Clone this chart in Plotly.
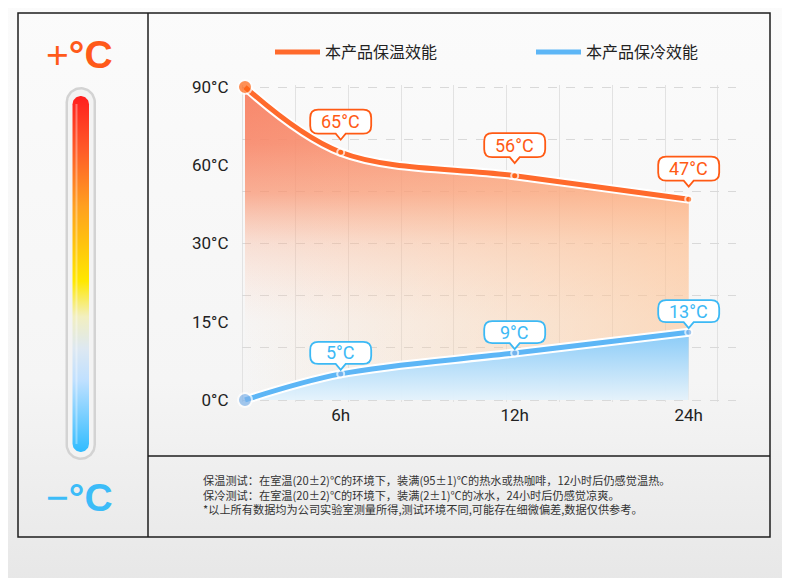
import numpy as np
import plotly.graph_objects as go

W, H = 790, 578
OFF = 8  # the page body margin shifts the figure by 8px

# ---- data ----
hours = [0, 6, 12, 24]
hot_temps = [90, 65, 56, 47]
cold_temps = [0, 5, 9, 13]
hot_name = "本产品保温效能"
cold_name = "本产品保冷效能"
x_tick_labels = ["6h", "12h", "24h"]
y_tick_temps = [0, 15, 30, 60, 90]
y_tick_labels = ["0°C", "15°C", "30°C", "60°C", "90°C"]
notes = [
    "保温测试：在室温(20±2)℃的环境下，装满(95±1)℃的热水或热咖啡，12小时后仍感觉温热。",
    "保冷测试：在室温(20±2)℃的环境下，装满(2±1)℃的冰水，24小时后仍感觉凉爽。",
    "*以上所有数据均为公司实验室测量所得,测试环境不同,可能存在细微偏差,数据仅供参考。",
]

# the chart uses broken scales: ticks sit at equal steps
x_break_hours = [0, 6, 12, 24]
x_break_pos = [0, 0.55, 1.55, 2.55]
y_break_pos = [0, 1, 2, 3, 4]


def xs(h):
    return np.interp(h, x_break_hours, x_break_pos)


def ys(t):
    return np.interp(t, y_tick_temps, y_break_pos)


hot_x, hot_y = xs(hours), ys(hot_temps)
cold_x, cold_y = xs(hours), ys(cold_temps)


# page pixels -> paper fraction
def px(x, y):
    return (x - OFF) / W, 1 - (y - OFF) / H


# ---- geometry (page pixels) ----
X0_PX, X_UNIT = 245, 174
Y0_PX, Y_UNIT = 400, 78.25
x_range = [-0.02, 2.82]
y_range = [-0.03, 4.03]
x_dom = [px(X0_PX + x_range[0] * X_UNIT, 0)[0], px(X0_PX + x_range[1] * X_UNIT, 0)[0]]
y_dom = [px(0, Y0_PX - y_range[0] * Y_UNIT)[1], px(0, Y0_PX - y_range[1] * Y_UNIT)[1]]

vgrid = [(242.7 + 52.8 * k - X0_PX) / X_UNIT for k in range(10)]
hgrid = [k * 2 / 3 for k in range(7)]

ORANGE = "#ff5a14"
BLUE = "#3cb9f5"


def stadium(x0, x1, y0, y1, n=30):
    r = (x1 - x0) / 2
    cx = (x0 + x1) / 2
    t = np.linspace(np.pi, 0, n)
    tx = cx + r * np.cos(t)
    ty = y0 + r - r * np.sin(t)
    t2 = np.linspace(0, -np.pi, n)
    bx = cx + r * np.cos(t2)
    by = y1 - r - r * np.sin(t2)
    return np.r_[tx, bx, tx[:1]], np.r_[ty, by, ty[:1]]


def callout_path(bottom, top, w=30.5, r=8, notch=5, notch_h=6):
    b, t = bottom, top
    return (f"M{-w + r},{b} L{-notch},{b} L0,{b - notch_h} L{notch},{b} L{w - r},{b} "
            f"Q{w},{b} {w},{b + r} L{w},{t - r} Q{w},{t} {w - r},{t} "
            f"L{-w + r},{t} Q{-w},{t} {-w},{t - r} L{-w},{b + r} Q{-w},{b} {-w + r},{b} Z")


fig = go.Figure()

# ---- decoration layer (pixel axes) ----
fig.add_trace(go.Scatter(
    x=[0, W + OFF, W + OFF, 0, 0], y=[0, 0, H + OFF, H + OFF, 0], xaxis="x", yaxis="y",
    mode="lines", line_width=0, fill="toself", hoverinfo="skip", showlegend=False,
    fillgradient=dict(type="vertical", start=H + OFF, stop=0,
                      colorscale=[[0, "#e7e7e7"], [0.35, "#f5f5f5"], [1, "#fbfbfb"]]),
))
for (x0, x1, y0, y1, col) in [(65.5, 96, 87, 460, "#d3d3d3"), (68, 93.5, 89.5, 457.5, "#f3f3f3")]:
    sx, sy = stadium(x0, x1, y0, y1)
    fig.add_trace(go.Scatter(x=sx, y=sy, xaxis="x", yaxis="y", mode="lines", line_width=0,
                             fill="toself", fillcolor=col, hoverinfo="skip", showlegend=False))
sx, sy = stadium(72.5, 89, 96, 452)
fig.add_trace(go.Scatter(
    x=sx, y=sy, xaxis="x", yaxis="y", mode="lines", line_width=0, fill="toself",
    hoverinfo="skip", showlegend=False,
    fillgradient=dict(type="vertical", start=452, stop=96, colorscale=[
        [0, "#30bcff"], [0.11, "#7fd0ff"], [0.2, "#bfe0ff"], [0.29, "#dde8f2"],
        [0.38, "#f2efc0"], [0.48, "#ffe800"], [0.6, "#ffbe10"], [0.69, "#ffa020"],
        [0.85, "#ff5a28"], [1, "#ff1e1e"]]),
))
fig.add_trace(go.Scatter(x=[76.5, 76.5], y=[104, 444], xaxis="x", yaxis="y", mode="lines",
                         line=dict(color="rgba(255,255,255,0.35)", width=2),
                         hoverinfo="skip", showlegend=False))

# ---- chart ----
fig.add_trace(go.Scatter(
    x=hot_x, y=hot_y, xaxis="x2", yaxis="y2", mode="lines", line=dict(width=0, shape="spline"),
    fill="tozeroy", hoverinfo="skip", showlegend=False,
    fillgradient=dict(type="vertical", start=0, stop=4, colorscale=[
        [0, "rgba(255,235,220,0)"], [0.25, "rgba(252,205,180,0.05)"], [0.5, "rgba(250,165,130,0.3)"],
        [0.66, "rgba(249,145,110,0.72)"], [0.82, "rgba(248,135,105,0.9)"], [1, "rgba(248,128,98,0.95)"]]),
))
fig.add_trace(go.Scatter(
    x=hot_x, y=hot_y, xaxis="x2", yaxis="y2", mode="lines", line=dict(width=0, shape="spline"),
    fill="tozeroy", hoverinfo="skip", showlegend=False,
    fillgradient=dict(type="horizontal", colorscale=[
        [0, "rgba(255,200,150,0)"], [1, "rgba(255,195,145,0.55)"]]),
))
fig.add_trace(go.Scatter(
    x=cold_x, y=cold_y, xaxis="x2", yaxis="y2", mode="lines", line=dict(width=0, shape="spline"),
    fill="tozeroy", hoverinfo="skip", showlegend=False,
    fillgradient=dict(type="vertical", start=0, stop=0.87, colorscale=[
        [0, "rgba(228,243,253,0.95)"], [1, "rgba(135,202,248,1)"]]),
))
for (lx, ly, col, name) in [(hot_x, hot_y, "#ff6a2c", hot_name), (cold_x, cold_y, "#5db6f6", cold_name)]:
    fig.add_trace(go.Scatter(x=lx, y=ly, xaxis="x2", yaxis="y2", mode="lines",
                             line=dict(color="white", width=9, shape="spline"),
                             hoverinfo="skip", showlegend=False, cliponaxis=False))
    fig.add_trace(go.Scatter(x=lx, y=ly, xaxis="x2", yaxis="y2", mode="lines", name=name,
                             line=dict(color=col, width=5, shape="spline"),
                             hoverinfo="skip", cliponaxis=False))
fig.add_trace(go.Scatter(x=hot_x, y=hot_y, xaxis="x2", yaxis="y2", mode="markers",
                         marker=dict(size=[14, 7, 7, 7], color="#ff6412", line=dict(color="white", width=2)),
                         hoverinfo="skip", showlegend=False, cliponaxis=False))
fig.add_trace(go.Scatter(x=cold_x, y=cold_y, xaxis="x2", yaxis="y2", mode="markers",
                         marker=dict(size=[14, 7, 7, 7], color="#7fb3ea", line=dict(color="white", width=2)),
                         hoverinfo="skip", showlegend=False, cliponaxis=False))

# ---- callouts ----
shapes = []
annotations = []
for xv, yv, tv, col, b, t, sh in (
    [(a, c, d, ORANGE, 18.5, 42.5, 30.5) for a, c, d in zip(hot_x[1:], hot_y[1:], hot_temps[1:])]
    + [(a, c, d, BLUE, 10, 32, 21) for a, c, d in zip(cold_x[1:], cold_y[1:], cold_temps[1:])]
):
    shapes.append(dict(type="path", xref="x2", yref="y2", xsizemode="pixel", ysizemode="pixel",
                       xanchor=xv, yanchor=yv, path=callout_path(b, t),
                       fillcolor="white", line=dict(color=col, width=1.8)))
    annotations.append(dict(x=xv, y=yv, xref="x2", yref="y2", yshift=sh, showarrow=False,
                            text=f"{tv}°C", font=dict(family="Roboto", size=18, color=col)))

# ---- frame ----
line_style = dict(color="#1e1e1e", width=1.5)
fx0, fy0 = px(18, 13)
fx1, fy1 = px(770, 537)
shapes.append(dict(type="rect", xref="paper", yref="paper", x0=fx0, y0=fy1, x1=fx1, y1=fy0, line=line_style))
dx, _ = px(148, 0)
shapes.append(dict(type="line", xref="paper", yref="paper", x0=dx, x1=dx, y0=fy1, y1=fy0, line=line_style))
_, hy = px(0, 456)
shapes.append(dict(type="line", xref="paper", yref="paper", x0=dx, x1=fx1, y0=hy, y1=hy, line=line_style))

# ---- left panel labels ----
for txt, yy, col in [("+<b>°C</b>", 54, "#ff5a1a"), ("−<b>°C</b>", 497, "#3cbcf8")]:
    ax, ay = px(79, yy)
    annotations.append(dict(x=ax, y=ay, xref="paper", yref="paper", xanchor="center", yanchor="middle",
                            showarrow=False, text=txt,
                            font=dict(family="Liberation Sans", size=39, color=col)))

# ---- notes ----
ax, ay = px(201, 494)
annotations.append(dict(x=ax, y=ay, xref="paper", yref="paper", xanchor="left", yanchor="middle",
                        align="left", showarrow=False, text="<br>".join(notes),
                        font=dict(family="Noto Sans CJK SC", size=11.2, color="#333333")))

lx, ly = px(270, 52)
fig.update_layout(
    width=W, height=H,
    margin=dict(l=0, r=0, t=0, b=0, autoexpand=False),
    paper_bgcolor="#f7f7f7", plot_bgcolor="rgba(0,0,0,0)",
    xaxis=dict(domain=[0, 1], range=[OFF, W + OFF], visible=False, fixedrange=True),
    yaxis=dict(domain=[0, 1], range=[H + OFF, OFF], visible=False, fixedrange=True),
    xaxis2=dict(domain=x_dom, range=x_range, anchor="y2",
                tickmode="array", tickvals=list(xs(hours[1:])), ticktext=x_tick_labels,
                showgrid=False, zeroline=False, showline=False, ticks="", ticklabelstandoff=1,
                tickfont=dict(family="Roboto", size=17, color="#222222"),
                minor=dict(tickmode="array", tickvals=vgrid, showgrid=True,
                           gridcolor="#e2e2e2", gridwidth=1, ticks="")),
    yaxis2=dict(domain=y_dom, range=y_range, anchor="x2",
                tickmode="array", tickvals=list(ys(y_tick_temps)), ticktext=y_tick_labels,
                showgrid=False, zeroline=False, showline=False, ticks="", ticklabelstandoff=12,
                tickfont=dict(family="Roboto", size=17, color="#222222"),
                minor=dict(tickmode="array", tickvals=hgrid, showgrid=True,
                           gridcolor="#d9d9d9", gridwidth=1, griddash="dash", ticks="")),
    legend=dict(orientation="h", x=lx, y=ly, xanchor="left", yanchor="middle",
                font=dict(family="Noto Sans CJK SC", size=16, color="#222222"),
                itemwidth=45, entrywidth=201, bgcolor="rgba(0,0,0,0)"),
    shapes=shapes,
    annotations=annotations,
)

fig.write_html("out.html")
